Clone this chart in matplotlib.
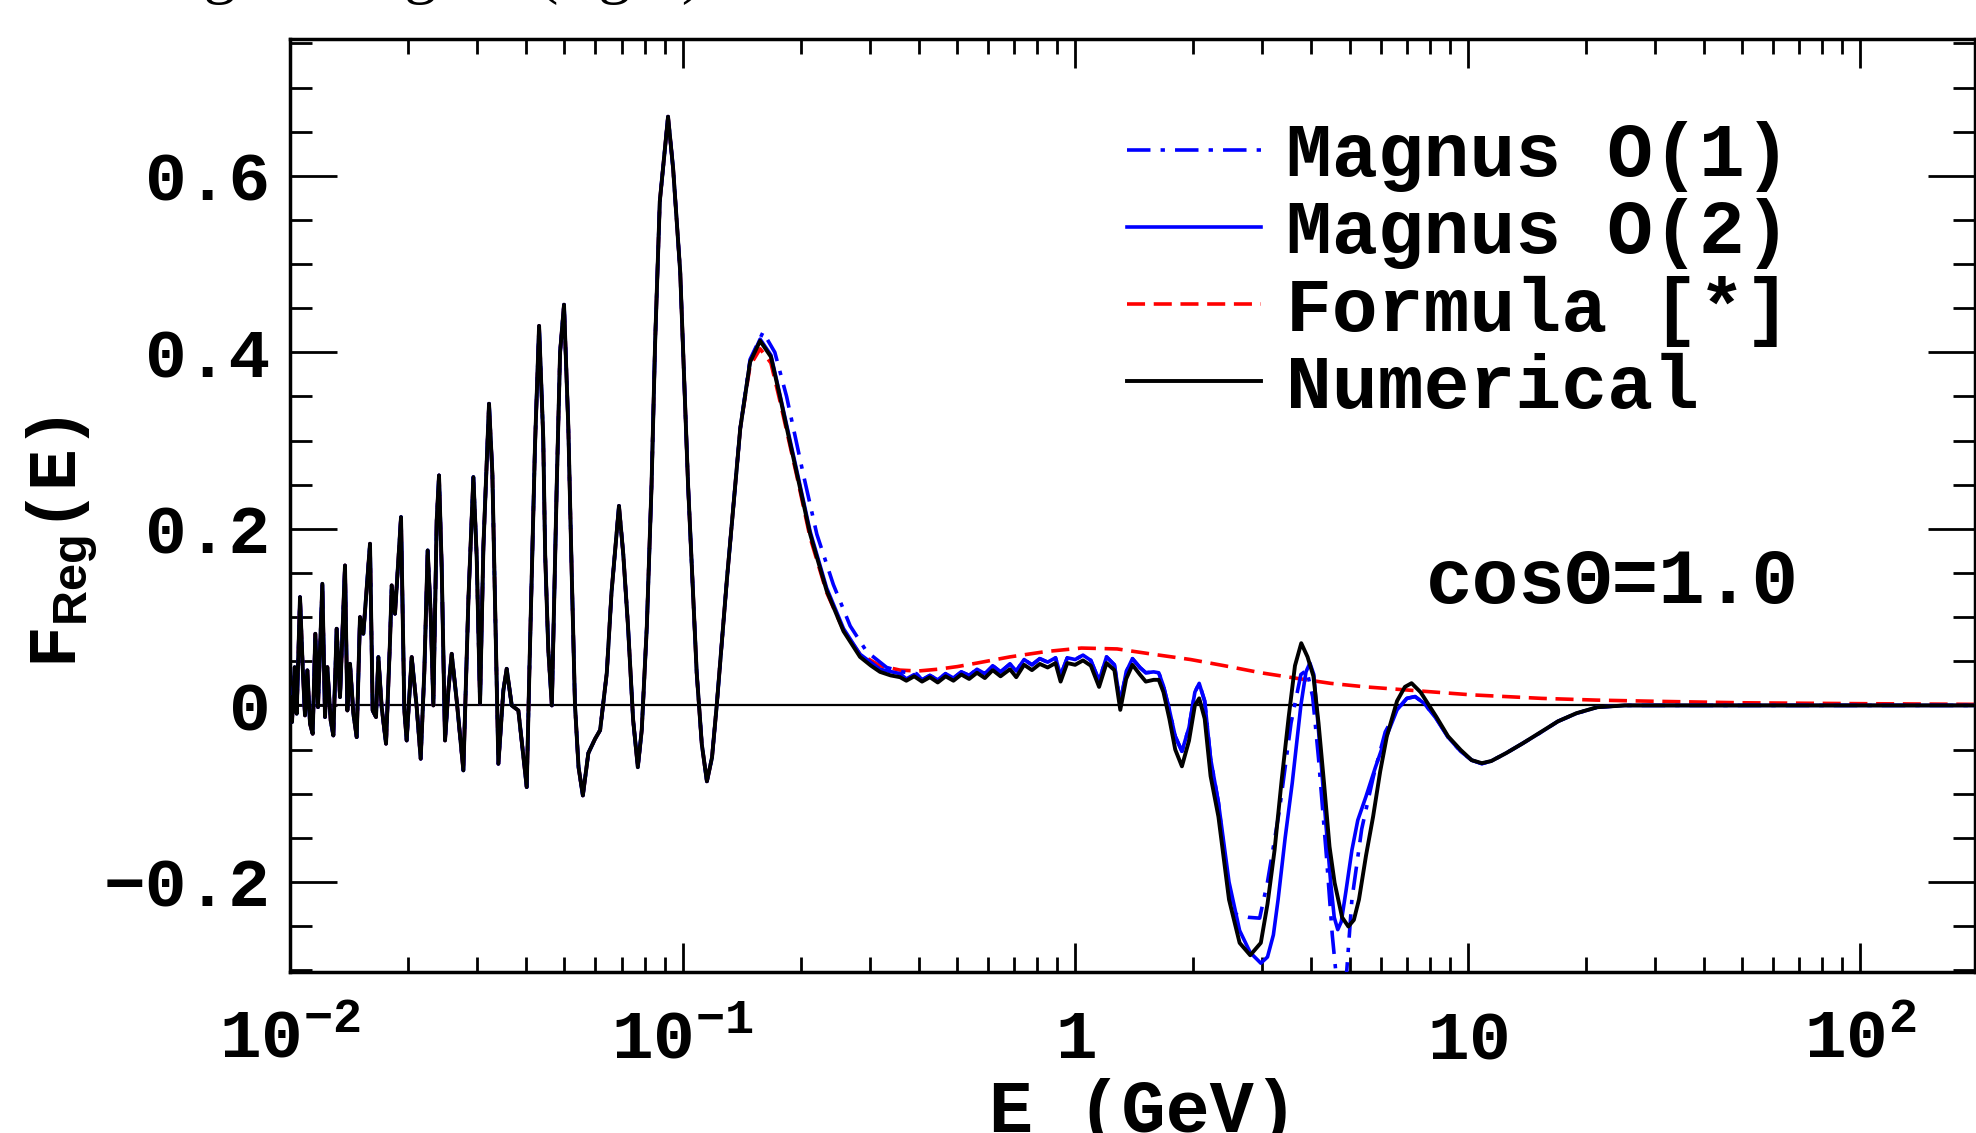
import matplotlib
matplotlib.use("Agg")
import matplotlib.pyplot as plt
import numpy as np
from matplotlib.ticker import LogLocator, MultipleLocator, NullFormatter

# (log10 E/GeV, F) pairs
# low energy part, all four curves sit on top of each other here
low_pts = [(-2.000, 0.0094), (-1.9949, -0.0189), (-1.9881, 0.0434), (-1.9830, -0.0094),
           (-1.9745, 0.1227), (-1.9677, 0.0434), (-1.9618, -0.0113), (-1.9558, 0.0397),
           (-1.9490, -0.0208), (-1.9422, -0.0321), (-1.9355, 0.0812), (-1.9287, -0.0019),
           (-1.9176, 0.1378), (-1.9108, -0.0132), (-1.9049, 0.0434), (-1.8964, -0.0170),
           (-1.8896, -0.0340), (-1.8811, 0.0869), (-1.8726, 0.0094), (-1.8599, 0.1586),
           (-1.8539, -0.0057), (-1.8471, 0.0472), (-1.8386, -0.0094), (-1.8301, -0.0359),
           (-1.8217, 0.1001), (-1.8132, 0.0812), (-1.7962, 0.1832), (-1.7894, -0.0057),
           (-1.7809, -0.0132), (-1.7749, 0.0548), (-1.7665, -0.0019), (-1.7554, -0.0434),
           (-1.7452, 0.0736), (-1.7410, 0.1360), (-1.7325, 0.1039), (-1.7172, 0.2134),
           (-1.7087, -0.0057), (-1.7028, -0.0397), (-1.6900, 0.0548), (-1.6773, -0.0019),
           (-1.6671, -0.0604), (-1.6577, 0.0397), (-1.6493, 0.1756), (-1.6416, 0.1039),
           (-1.6348, 0.0), (-1.6263, 0.2096), (-1.6204, 0.2606), (-1.6136, 0.1567),
           (-1.6051, -0.0397), (-1.5966, 0.0170), (-1.5881, 0.0585), (-1.5754, 0.0057),
           (-1.5584, -0.0736), (-1.5456, 0.1190), (-1.5329, 0.2587), (-1.5244, 0.1681),
           (-1.5159, 0.0019), (-1.5074, 0.1794), (-1.4930, 0.3418), (-1.4845, 0.2625),
           (-1.4692, -0.0661), (-1.4565, 0.0170), (-1.4480, 0.0415), (-1.4352, 0.0),
           (-1.4183, -0.0057), (-1.3970, -0.0925), (-1.3900, 0.043), (-1.3840, 0.149),
           (-1.3760, 0.293), (-1.3655, 0.430), (-1.3550, 0.304), (-1.3500, 0.171),
           (-1.3420, 0.063), (-1.3330, 0.0), (-1.3205, 0.25), (-1.3120, 0.40),
           (-1.3020, 0.454), (-1.2910, 0.315), (-1.2820, 0.143), (-1.2740, 0.0),
           (-1.2650, -0.070), (-1.2540, -0.102), (-1.2400, -0.054), (-1.2230, -0.038),
           (-1.2100, -0.028), (-1.1930, 0.037), (-1.1810, 0.128), (-1.1620, 0.226),
           (-1.1510, 0.171), (-1.1390, 0.090), (-1.1260, -0.016), (-1.1140, -0.070),
           (-1.1040, -0.028), (-1.0910, 0.090), (-1.0790, 0.25), (-1.0700, 0.41),
           (-1.0580, 0.571), (-1.0370, 0.667), (-1.0240, 0.608), (-1.0060, 0.491),
           (-0.9860, 0.25), (-0.9640, 0.037), (-0.9510, -0.044), (-0.9380, -0.086),
           (-0.9250, -0.059), (-0.9130, 0.0), (-0.8870, 0.143), (-0.8530, 0.314)]

num_pts = [(-0.828, 0.389), (-0.8025, 0.413), (-0.775, 0.395), (-0.752, 0.350), (-0.730, 0.305),
           (-0.709, 0.263), (-0.675, 0.194), (-0.633, 0.130), (-0.590, 0.084), (-0.548, 0.055),
           (-0.520, 0.045), (-0.497, 0.038), (-0.470, 0.034), (-0.446, 0.032), (-0.43, 0.028),
           (-0.41, 0.033), (-0.39, 0.027), (-0.37, 0.032), (-0.35, 0.026), (-0.33, 0.033),
           (-0.31, 0.028), (-0.29, 0.035), (-0.27, 0.030), (-0.25, 0.037), (-0.23, 0.031),
           (-0.21, 0.040), (-0.19, 0.033), (-0.166, 0.041), (-0.15, 0.032), (-0.13, 0.046),
           (-0.11, 0.040), (-0.09, 0.047), (-0.07, 0.043), (-0.05, 0.048), (-0.037, 0.027),
           (-0.02, 0.048), (0.0, 0.046), (0.02, 0.051), (0.04, 0.045), (0.061, 0.021),
           (0.08, 0.048), (0.10, 0.040), (0.115, -0.005), (0.13, 0.030), (0.146, 0.046),
           (0.165, 0.035), (0.18, 0.027), (0.20, 0.029), (0.213, 0.029), (0.225, 0.015),
           (0.24, -0.015), (0.255, -0.050), (0.272, -0.069), (0.29, -0.040), (0.305, 0.0),
           (0.316, 0.008), (0.33, -0.015), (0.345, -0.080), (0.365, -0.126), (0.392, -0.220),
           (0.419, -0.269), (0.446, -0.283), (0.473, -0.269), (0.490, -0.225), (0.508, -0.164),
           (0.526, -0.085), (0.544, -0.013), (0.560, 0.045), (0.576, 0.0705), (0.592, 0.055),
           (0.607, 0.033), (0.620, -0.020), (0.634, -0.088), (0.648, -0.160), (0.661, -0.201),
           (0.680, -0.240), (0.696, -0.2505), (0.710, -0.243), (0.723, -0.220), (0.741, -0.170),
           (0.759, -0.126), (0.777, -0.075), (0.794, -0.035), (0.820, 0.005), (0.840, 0.021),
           (0.857, 0.0252), (0.880, 0.015), (0.920, -0.0128), (0.950, -0.035), (0.982, -0.0504),
           (1.010, -0.062), (1.036, -0.0654), (1.060, -0.063), (1.098, -0.054), (1.140, -0.043),
           (1.188, -0.0296), (1.230, -0.018), (1.277, -0.0088), (1.330, -0.002), (1.400, 0.0),
           (1.600, 0.0), (2.000, 0.0), (2.300, 0.0)]

mag2_pts = [(-0.828, 0.390), (-0.8025, 0.415), (-0.775, 0.397), (-0.752, 0.352), (-0.709, 0.266),
            (-0.675, 0.197), (-0.633, 0.133), (-0.590, 0.087), (-0.548, 0.058), (-0.497, 0.041),
            (-0.446, 0.036), (-0.43, 0.030), (-0.41, 0.035), (-0.39, 0.029), (-0.37, 0.034),
            (-0.35, 0.029), (-0.33, 0.036), (-0.31, 0.031), (-0.29, 0.038), (-0.27, 0.034),
            (-0.25, 0.041), (-0.23, 0.036), (-0.21, 0.045), (-0.19, 0.038), (-0.166, 0.047),
            (-0.15, 0.039), (-0.13, 0.052), (-0.11, 0.046), (-0.09, 0.053), (-0.07, 0.049),
            (-0.05, 0.054), (-0.037, 0.034), (-0.02, 0.054), (0.0, 0.052), (0.02, 0.057),
            (0.04, 0.051), (0.061, 0.028), (0.08, 0.055), (0.10, 0.046), (0.115, 0.003),
            (0.13, 0.038), (0.146, 0.053), (0.165, 0.043), (0.18, 0.037), (0.20, 0.038),
            (0.213, 0.037), (0.225, 0.022), (0.24, -0.005), (0.255, -0.035), (0.272, -0.052),
            (0.29, -0.025), (0.305, 0.015), (0.316, 0.025), (0.33, 0.005), (0.345, -0.06),
            (0.365, -0.11), (0.392, -0.20), (0.419, -0.255), (0.446, -0.280), (0.473, -0.292),
            (0.49, -0.285), (0.505, -0.260), (0.517, -0.220), (0.535, -0.15), (0.553, -0.088),
            (0.575, 0.0), (0.588, 0.038), (0.598, 0.048), (0.608, 0.035), (0.624, -0.050),
            (0.638, -0.13), (0.651, -0.201), (0.660, -0.240), (0.669, -0.254), (0.678, -0.245),
            (0.69, -0.210), (0.705, -0.164), (0.72, -0.13), (0.741, -0.103), (0.765, -0.07),
            (0.786, -0.043), (0.82, -0.005), (0.845, 0.008), (0.866, 0.010), (0.89, 0.002),
            (0.92, -0.015), (0.95, -0.036), (0.982, -0.052), (1.01, -0.062), (1.036, -0.066),
            (1.06, -0.063), (1.098, -0.054), (1.14, -0.043), (1.188, -0.030), (1.23, -0.018),
            (1.277, -0.009), (1.33, -0.002), (1.4, 0.0), (1.6, 0.0), (2.0, 0.0), (2.3, 0.0)]

mag1_pts = [(-0.828, 0.392), (-0.795, 0.423), (-0.765, 0.400), (-0.735, 0.350), (-0.693, 0.263),
            (-0.658, 0.194), (-0.616, 0.137), (-0.573, 0.090), (-0.531, 0.061), (-0.480, 0.043),
            (-0.440, 0.038), (-0.404, 0.036), (-0.39, 0.029), (-0.37, 0.034), (-0.35, 0.029),
            (-0.33, 0.036), (-0.31, 0.031), (-0.29, 0.038), (-0.27, 0.034), (-0.25, 0.041),
            (-0.23, 0.036), (-0.21, 0.045), (-0.19, 0.038), (-0.166, 0.047), (-0.15, 0.039),
            (-0.13, 0.052), (-0.11, 0.046), (-0.09, 0.053), (-0.07, 0.049), (-0.05, 0.054),
            (-0.037, 0.034), (-0.02, 0.054), (0.0, 0.052), (0.02, 0.057), (0.04, 0.051),
            (0.061, 0.028), (0.08, 0.055), (0.10, 0.046), (0.115, 0.003), (0.13, 0.038),
            (0.146, 0.053), (0.165, 0.043), (0.18, 0.037), (0.20, 0.038), (0.213, 0.037),
            (0.225, 0.022), (0.24, -0.005), (0.255, -0.035), (0.272, -0.052), (0.29, -0.025),
            (0.305, 0.015), (0.316, 0.025), (0.33, 0.005), (0.345, -0.06), (0.365, -0.11),
            (0.392, -0.215), (0.41, -0.237), (0.44, -0.240), (0.47, -0.241), (0.49, -0.20),
            (0.52, -0.12), (0.55, -0.02), (0.575, 0.035), (0.590, 0.040), (0.605, 0.01),
            (0.62, -0.06), (0.64, -0.17), (0.655, -0.26), (0.668, -0.32), (0.68, -0.34),
            (0.692, -0.30), (0.705, -0.22), (0.73, -0.14), (0.76, -0.08), (0.79, -0.03),
            (0.82, -0.005), (0.845, 0.008), (0.866, 0.010), (0.89, 0.002), (0.92, -0.015),
            (0.95, -0.036), (0.982, -0.052), (1.01, -0.062), (1.036, -0.066), (1.06, -0.063),
            (1.098, -0.054), (1.14, -0.043), (1.188, -0.030), (1.23, -0.018), (1.277, -0.009),
            (1.33, -0.002), (1.4, 0.0), (1.6, 0.0), (2.0, 0.0), (2.3, 0.0)]

formula_pts = [(-0.828, 0.385), (-0.8025, 0.404), (-0.775, 0.388), (-0.752, 0.345), (-0.709, 0.260),
               (-0.675, 0.190), (-0.633, 0.128), (-0.590, 0.085), (-0.548, 0.058), (-0.497, 0.045),
               (-0.446, 0.040), (-0.40, 0.039), (-0.35, 0.041), (-0.30, 0.044), (-0.25, 0.048),
               (-0.166, 0.055), (-0.075, 0.061), (0.016, 0.065), (0.107, 0.064), (0.198, 0.058),
               (0.294, 0.052), (0.38, 0.045), (0.473, 0.037), (0.56, 0.031), (0.651, 0.025),
               (0.74, 0.021), (0.83, 0.018), (0.92, 0.015), (1.009, 0.012), (1.10, 0.010),
               (1.188, 0.008), (1.33, 0.006), (1.5, 0.0045), (1.7, 0.003), (2.0, 0.002), (2.3, 0.0012)]

labels = ["Magnus O(1)", "Magnus O(2)", "Formula [*]", "Numerical"]
x_ticks = [0.01, 0.1, 1, 10, 100]
x_tick_labels = [r"$\mathrm{10^{-2}}$", r"$\mathrm{10^{-1}}$", r"$\mathrm{1}$", r"$\mathrm{10}$", r"$\mathrm{10^{2}}$"]
y_ticks = [-0.2, 0, 0.2, 0.4, 0.6]
y_tick_labels = ["\u22120.2", "0", "0.2", "0.4", "0.6"]


def curve(tail):
    pts = low_pts + tail
    x = 10 ** np.array([p[0] for p in pts])
    y = np.array([p[1] for p in pts])
    return x, y


plt.rcParams["font.family"] = ["Liberation Mono", "DejaVu Sans Mono"]
plt.rcParams["font.weight"] = "bold"
plt.rcParams["mathtext.fontset"] = "custom"
plt.rcParams["mathtext.rm"] = "Liberation Mono:bold"
plt.rcParams["mathtext.bf"] = "Liberation Mono:bold"
plt.rcParams["mathtext.sf"] = "Liberation Sans:bold"

fig = plt.figure(figsize=(19.76, 11.33), dpi=100)
ax = fig.add_axes([290 / 1976, 161 / 1133, 1685 / 1976, 933 / 1133])

ax.axhline(0, color="black", lw=1.6, zorder=1)

x, y = curve(formula_pts)
l_form, = ax.plot(x, y, color="red", lw=2.6, dashes=(5.0, 2.4), zorder=2)
x, y = curve(mag1_pts)
l_m1, = ax.plot(x, y, color="blue", lw=2.6, dashes=(6.5, 2.8, 1.2, 2.8), zorder=3)
x, y = curve(mag2_pts)
l_m2, = ax.plot(x, y, color="blue", lw=2.6, zorder=4)
x, y = curve(num_pts)
l_num, = ax.plot(x, y, color="black", lw=2.8, zorder=5)

ax.set_xscale("log")
ax.set_xlim(0.01, 196)
ax.set_ylim(-0.302, 0.755)

ax.set_xticks(x_ticks)
ax.set_xticklabels(x_tick_labels)
ax.xaxis.set_minor_locator(LogLocator(base=10, subs=np.arange(2, 10)))
ax.xaxis.set_minor_formatter(NullFormatter())
ax.set_yticks(y_ticks)
ax.set_yticklabels(y_tick_labels)
ax.yaxis.set_minor_locator(MultipleLocator(0.05))

ax.tick_params(axis="both", which="both", direction="in", top=True, right=True, width=2)
ax.tick_params(axis="y", which="major", length=34, labelsize=50, pad=14)
ax.tick_params(axis="y", which="minor", length=16)
ax.tick_params(axis="x", which="major", length=21, labelsize=50, pad=62)
ax.tick_params(axis="x", which="minor", length=11)
for t in ax.get_xticklabels():
    t.set_verticalalignment("baseline")
for s in ax.spines.values():
    s.set_linewidth(2.5)

leg = ax.legend([l_m1, l_m2, l_form, l_num], labels, loc="upper left",
                bbox_to_anchor=(0.497, 0.912), frameon=False, fontsize=55,
                handlelength=1.75, handletextpad=0.33, labelspacing=0.08,
                borderpad=0, borderaxespad=0)

ax.text(0.674, 0.3955, "cos\u0398=1.0", transform=ax.transAxes, fontsize=56,
        ha="left", va="baseline")

fig.text(1143 / 1976, 0.001, "E (GeV)", fontsize=53, ha="center", va="baseline")
fig.text(62 / 1976, 0.5216, r"F$_{\mathsf{Reg}}$(E)", fontsize=50, rotation=90,
         ha="center", va="center")
# caption of the panel, only its bottom shows at the top edge
fig.text(131 / 1976, 1 + 9 / 1133, "Regular region (right)", fontsize=47,
         family="Liberation Serif", weight="normal", ha="left", va="baseline")

fig.savefig("out.png", dpi=100)
